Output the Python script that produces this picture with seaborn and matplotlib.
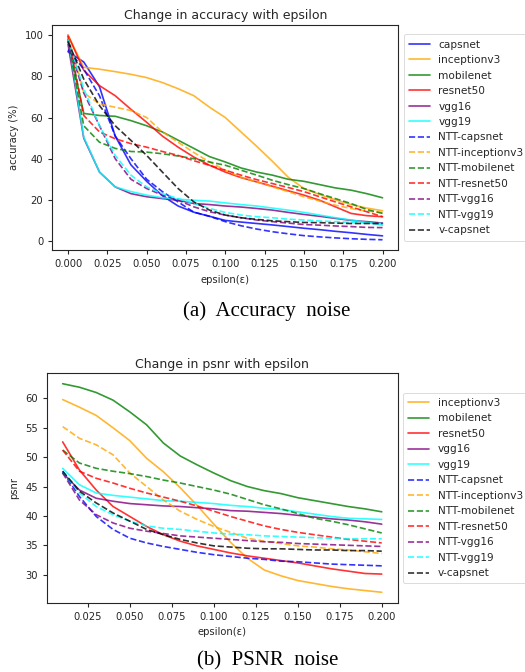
import numpy as np
import pandas as pd
import matplotlib
matplotlib.use("Agg")
import matplotlib.pyplot as plt
from matplotlib.ticker import FormatStrFormatter
import seaborn as sns

# ---------------- data: accuracy ----------------
eps_acc = [0.00, 0.01, 0.02, 0.03, 0.04, 0.05, 0.06, 0.07, 0.08, 0.09, 0.10,
           0.11, 0.12, 0.13, 0.14, 0.15, 0.16, 0.17, 0.18, 0.19, 0.20]

acc_capsnet = [92, 87, 75, 51, 37, 29, 22, 17, 14, 12, 10, 9.2, 8.5, 7.8, 7, 6.2, 5.5, 4.7, 4, 3.2, 2.5]
acc_inceptionv3 = [100, 84.4, 83.5, 82.3, 81, 79.4, 77, 74, 70.6, 65, 60, 53, 46, 38.7, 31, 25.5, 22.6, 20, 17.7, 16, 14.7]
acc_mobilenet = [98, 62, 61, 60.6, 58.5, 56, 53, 49, 45, 41, 38.4, 35.5, 33.5, 32, 30, 29, 27.4, 25.8, 24.7, 23, 21]
acc_resnet50 = [100, 83, 75.5, 70.6, 64, 57.7, 51, 45.6, 40.8, 36.8, 33.5, 30.8, 28.7, 26.6, 24.4, 22.3, 19.8, 16.6, 13.4, 12.3, 11.8]
acc_vgg16 = [95.6, 50, 33.5, 26.3, 23, 21.5, 20.6, 19.8, 18.2, 17.7, 17, 16.5, 15.8, 15, 13.9, 12.9, 12, 11, 10, 9.4, 8.7]
acc_vgg19 = [99.7, 50.5, 33.5, 26.3, 24, 22.3, 21, 20.3, 19.8, 19.4, 18.5, 17.7, 17, 16, 15, 13.9, 12.6, 11.3, 10.2, 9, 7.7]
acc_ntt_capsnet = [93, 83.5, 70.6, 51, 40, 30, 24, 19, 14, 12, 9.4, 7.4, 5.8, 4.5, 3.5, 2.6, 2, 1.5, 1.1, 0.8, 0.6]
acc_ntt_inceptionv3 = [99.7, 72, 66.6, 65, 63.4, 60, 53, 48, 43, 38.4, 34.4, 31, 28.7, 26.3, 24, 21.5, 19.4, 17.4, 15.8, 14.5, 13.9]
acc_ntt_mobilenet = [98, 56, 48, 45, 43.5, 43.2, 42.4, 41.3, 40, 38.4, 36.8, 34.4, 32, 29.5, 27.4, 25.5, 23, 20.6, 18.2, 15.3, 13.4]
acc_ntt_resnet50 = [99.7, 61, 53, 49.7, 47.3, 45.6, 43.5, 41.6, 39, 36.8, 34.4, 32, 29.8, 27.9, 26, 24, 21.5, 19, 16.6, 14.2, 11.8]
acc_ntt_vgg16 = [97, 72, 56, 40, 30, 25.5, 22.3, 19.8, 16.6, 14.2, 12.6, 11.3, 10.2, 9.4, 8.7, 8, 7.7, 7.3, 7, 6.6, 6.5]
acc_ntt_vgg19 = [98, 74, 56, 41.6, 32, 26.3, 23, 20.6, 18.2, 15.8, 13.9, 12.6, 11.8, 11.3, 10.6, 10.2, 9.7, 9.4, 9, 8.7, 8.5]
acc_v_capsnet = [97, 78.7, 65.8, 56, 48.9, 41.6, 33.5, 25.5, 19, 15, 12.6, 11.3, 10.5, 9.8, 9.4, 9, 8.9, 8.7, 8.5, 8.5, 8.5]

# ---------------- data: psnr ----------------
eps_psnr = [0.01, 0.02, 0.03, 0.04, 0.05, 0.06, 0.07, 0.08, 0.09, 0.10,
            0.11, 0.12, 0.13, 0.14, 0.15, 0.16, 0.17, 0.18, 0.19, 0.20]

psnr_inceptionv3 = [59.8, 58.5, 57.1, 55.0, 52.8, 49.8, 47.5, 44.8, 41.8, 38.6, 35.5, 32.8, 30.8, 29.8, 29.0, 28.5, 28.0, 27.6, 27.3, 27.0]
psnr_mobilenet = [62.5, 61.9, 61, 59.7, 57.7, 55.5, 52.4, 50.2, 48.7, 47.3, 46, 45, 44.3, 43.8, 43.1, 42.6, 42.1, 41.6, 41.2, 40.7]
psnr_resnet50 = [52.6, 47.8, 44.4, 41.6, 39.9, 38.2, 36.8, 35.7, 34.9, 34.3, 33.7, 33.2, 32.8, 32.4, 32, 31.5, 31, 30.6, 30.2, 30.1]
psnr_vgg16 = [47.3, 44.4, 43, 42.5, 42.1, 41.9, 41.7, 41.6, 41.4, 41.2, 40.9, 40.8, 40.6, 40.4, 40.1, 39.8, 39.5, 39.3, 39, 38.6]
psnr_vgg19 = [48.1, 45.3, 43.9, 43.5, 43.2, 42.9, 42.6, 42.5, 42.3, 42.1, 41.8, 41.6, 41.3, 41.1, 40.7, 40.3, 39.9, 39.6, 39.5, 39.4]
psnr_ntt_capsnet = [47.6, 43.3, 39.9, 37.7, 36.2, 35.4, 34.8, 34.3, 33.8, 33.4, 33.1, 32.8, 32.6, 32.3, 32.2, 32, 31.8, 31.7, 31.6, 31.5]
psnr_ntt_inceptionv3 = [55.2, 53.2, 52.1, 50.4, 47.3, 45, 42.7, 40.8, 39.4, 38.2, 37.2, 36.2, 35.7, 35.3, 34.9, 34.7, 34.4, 34.2, 33.9, 33.6]
psnr_ntt_mobilenet = [51.2, 49, 48.1, 47.6, 47.2, 46.7, 46.1, 45.6, 45, 44.4, 43.7, 42.8, 41.9, 41.2, 40.4, 39.6, 39.1, 38.5, 37.8, 37.1]
psnr_ntt_resnet50 = [51.2, 47.6, 46.4, 45.6, 44.7, 43.9, 43.2, 42.5, 41.7, 40.8, 39.9, 39.1, 38.3, 37.7, 37.2, 36.8, 36.4, 36, 35.7, 35.4]
psnr_ntt_vgg16 = [47.3, 42.7, 40.2, 38.8, 37.9, 37.4, 37, 36.6, 36.4, 36.2, 36, 35.8, 35.6, 35.5, 35.3, 35.2, 35.1, 35, 34.9, 34.8]
psnr_ntt_vgg19 = [47.6, 43.9, 41.6, 40.2, 39.1, 38.3, 37.9, 37.7, 37.4, 37.1, 36.9, 36.8, 36.6, 36.5, 36.4, 36.3, 36.2, 36.1, 36.1, 36.1]
psnr_v_capsnet = [47.6, 44.2, 42.2, 40.5, 39.1, 37.7, 36.8, 36, 35.4, 34.9, 34.7, 34.5, 34.4, 34.4, 34.3, 34.2, 34.2, 34.1, 34.1, 34]

acc_ticks = [0.000, 0.025, 0.050, 0.075, 0.100, 0.125, 0.150, 0.175, 0.200]
psnr_ticks = [0.025, 0.050, 0.075, 0.100, 0.125, 0.150, 0.175, 0.200]

# ---------------- style ----------------
sns.set_style("ticks")
plt.rcParams['font.family'] = ['DejaVu Sans']

styles = {
    'capsnet': ('blue', '-'), 'inceptionv3': ('orange', '-'), 'mobilenet': ('green', '-'),
    'resnet50': ('red', '-'), 'vgg16': ('purple', '-'), 'vgg19': ('cyan', '-'),
    'NTT-capsnet': ('blue', '--'), 'NTT-inceptionv3': ('orange', '--'),
    'NTT-mobilenet': ('green', '--'), 'NTT-resnet50': ('red', '--'),
    'NTT-vgg16': ('purple', '--'), 'NTT-vgg19': ('cyan', '--'), 'v-capsnet': ('black', '--'),
}

acc_series = {
    'capsnet': acc_capsnet, 'inceptionv3': acc_inceptionv3, 'mobilenet': acc_mobilenet,
    'resnet50': acc_resnet50, 'vgg16': acc_vgg16, 'vgg19': acc_vgg19,
    'NTT-capsnet': acc_ntt_capsnet, 'NTT-inceptionv3': acc_ntt_inceptionv3,
    'NTT-mobilenet': acc_ntt_mobilenet, 'NTT-resnet50': acc_ntt_resnet50,
    'NTT-vgg16': acc_ntt_vgg16, 'NTT-vgg19': acc_ntt_vgg19, 'v-capsnet': acc_v_capsnet,
}
psnr_series = {
    'inceptionv3': psnr_inceptionv3, 'mobilenet': psnr_mobilenet,
    'resnet50': psnr_resnet50, 'vgg16': psnr_vgg16, 'vgg19': psnr_vgg19,
    'NTT-capsnet': psnr_ntt_capsnet, 'NTT-inceptionv3': psnr_ntt_inceptionv3,
    'NTT-mobilenet': psnr_ntt_mobilenet, 'NTT-resnet50': psnr_ntt_resnet50,
    'NTT-vgg16': psnr_ntt_vgg16, 'NTT-vgg19': psnr_ntt_vgg19, 'v-capsnet': psnr_v_capsnet,
}

fig = plt.figure(figsize=(5.25, 6.72), dpi=100)
ax1 = fig.add_axes([0.0996, 0.628, 0.659, 0.3348])
ax2 = fig.add_axes([0.089, 0.1031, 0.6685, 0.3414])

FS_TICK = 7.2
FS_LEG = 7.6


def draw(ax, eps, series, title, ylabel, xticks, yticks):
    for name, vals in series.items():
        c, ls = styles[name]
        df = pd.DataFrame({'eps': eps, 'val': vals})
        sns.lineplot(data=df, x='eps', y='val', ax=ax, color=c, linestyle=ls,
                     linewidth=1.2, alpha=0.8, label=name)
    ax.set_title(title, fontsize=9, pad=4)
    ax.set_xlabel('epsilon(ε)', fontsize=FS_TICK)
    ax.set_ylabel(ylabel, fontsize=FS_TICK)
    ax.set_xticks(xticks)
    ax.set_yticks(yticks)
    ax.xaxis.set_major_formatter(FormatStrFormatter('%.3f'))
    ax.tick_params(labelsize=FS_TICK, length=3, width=0.8)
    for s in ax.spines.values():
        s.set_linewidth(0.8)
    ax.margins(x=0.05, y=0.05)
    leg = ax.legend(loc='center left', bbox_to_anchor=(1.0, 0.5), fontsize=FS_LEG,
                    frameon=True, handlelength=2.0, labelspacing=0.52, borderpad=0.5)
    leg.get_frame().set_linewidth(0.6)


draw(ax1, eps_acc, acc_series, 'Change in accuracy with epsilon', 'accuracy (%)',
     acc_ticks, [0, 20, 40, 60, 80, 100])
draw(ax2, eps_psnr, psnr_series, 'Change in psnr with epsilon', 'psnr',
     psnr_ticks, [30, 35, 40, 45, 50, 55, 60])

fig.text(267 / 525, 1 - 311 / 672, '(a)  Accuracy  noise', ha='center', va='center',
         fontsize=15, family='Liberation Serif', color='black')
fig.text(268 / 525, 1 - 661 / 672, '(b)  PSNR  noise', ha='center', va='center',
         fontsize=15, family='Liberation Serif', color='black')

fig.savefig('out.png', dpi=100)
